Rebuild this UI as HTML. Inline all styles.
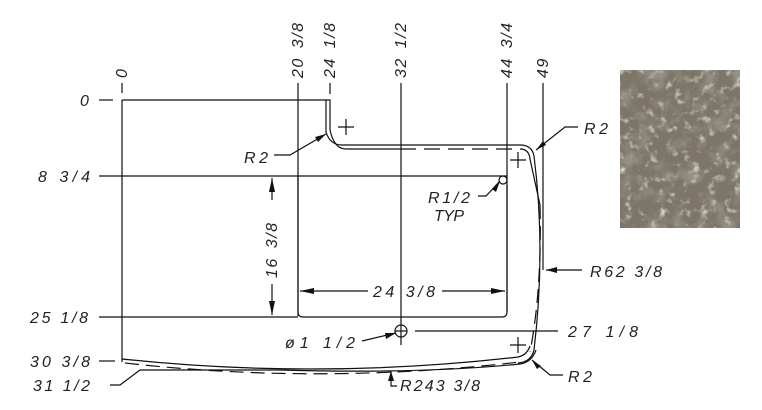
<!DOCTYPE html>
<html><head><meta charset="utf-8"><style>
html,body{margin:0;padding:0;background:#fff;width:762px;height:410px;overflow:hidden}
svg{display:block}
text{font-family:"Liberation Sans",sans-serif;font-style:italic;font-size:16px;fill:#222}
.r{letter-spacing:1.5px;word-spacing:3px}
</style></head><body>
<svg width="762" height="410" viewBox="0 0 762 410" xmlns="http://www.w3.org/2000/svg">
<defs>
<filter id="stone" x="0" y="0" width="100%" height="100%">
<feTurbulence type="fractalNoise" baseFrequency="0.06" numOctaves="4" seed="7"/>
<feColorMatrix type="matrix" values="0 0 0 0 0.30  0 0 0 0 0.28  0 0 0 0 0.24  0 0 0 -3 1.6"/>
</filter>
<filter id="stone2" x="0" y="0" width="100%" height="100%">
<feTurbulence type="fractalNoise" baseFrequency="0.12" numOctaves="3" seed="2"/>
<feColorMatrix type="matrix" values="0 0 0 0 0.70  0 0 0 0 0.68  0 0 0 0 0.62  0 0 0 -3 1.3"/>
</filter>
</defs>
<rect x="620" y="70" width="120" height="158" fill="#7d7668"/>
<rect x="620" y="70" width="120" height="158" fill="#000" filter="url(#stone)"/>
<rect x="620" y="70" width="120" height="158" fill="#000" filter="url(#stone2)"/>

<g stroke="#111" stroke-width="1.2" fill="none">
<line x1="122" y1="83" x2="122" y2="93"/>
<line x1="122" y1="100" x2="122" y2="362"/>
<line x1="298" y1="83" x2="298" y2="316"/>
<line x1="330" y1="83" x2="330" y2="94"/>
<line x1="401" y1="83" x2="401" y2="345"/>
<line x1="507" y1="83" x2="507" y2="312"/>
<line x1="543" y1="83" x2="543" y2="270"/>
<line x1="99" y1="100" x2="113" y2="100"/>
<line x1="99" y1="176" x2="507" y2="176"/>
<line x1="99" y1="317" x2="298" y2="317"/>
<line x1="99" y1="361" x2="115" y2="361"/>
<polyline points="110,385 120,385 140,370"/>
<polyline points="122,100 330,100 330,130"/>
<path d="M326,100 V132 Q330,145 342,145 H520 Q532,145 534,156 Q546,250 534,350 Q531,362 518,363"/>
<path d="M330,130 Q334,149 346,149 H400"/>
<path d="M400,149 H520" stroke-dasharray="16,8"/>
<path d="M520,149 Q529,149 530,159 L540,205"/>
<path d="M540,205 Q542,290 530,352" stroke-dasharray="14,7"/>
<path d="M122,359 Q320,380 518,357 Q527,355 530,346"/>
<path d="M125,363 Q320,385 520,362" stroke-dasharray="14,7"/>
<path d="M140,370 H280 Q420,374 520,364 Q532,362 536,350"/>
<path d="M298,176 V312 Q298,317 303,317 H502 Q507,317 507,312 V185"/>
<circle cx="503" cy="180" r="4"/>
<path d="M346,119 V135 M338,127 H354"/>
<path d="M518,152 V168 M510,160 H526"/>
<path d="M518,337 V353 M510,345 H526"/>
<circle cx="401" cy="331" r="6"/>
<line x1="395" y1="331" x2="407" y2="331"/>
<line x1="415" y1="331" x2="558" y2="331"/>
<line x1="272" y1="178" x2="272" y2="200"/>
<line x1="272" y1="284" x2="272" y2="315"/>
<line x1="300" y1="291" x2="368" y2="291"/>
<line x1="442" y1="291" x2="505" y2="291"/>
<polyline points="274,155 290,155 326,134"/>
<polyline points="478,196 486,196 500,181"/>
<polyline points="578,127 565,127 536,150"/>
<polyline points="582,270 546,270"/>
<polyline points="362,341 396,333"/>
<polyline points="563,375 550,375 532,360"/>
<polyline points="397,386 391,386 391,371"/>
</g>
<g fill="#111">
<polygon points="272,178 269,192 275,192"/>
<polygon points="272,315 269,301 275,301"/>
<polygon points="300,291 314,288 314,294"/>
<polygon points="505,291 491,288 491,294"/>
<polygon points="326,134 315,137 318,142"/>
<polygon points="500,181 492,189 496,192"/>
<polygon points="536,150 543,141 546,145"/>
<polygon points="546,270 557,267 557,273"/>
<polygon points="396,333 385,333 386,339"/>
<polygon points="532,360 537,369 541,366"/>
<polygon points="391,371 388,381 394,381"/>
</g>

<g transform="rotate(-90)">
<text class="r" x="-78" y="127">0</text>
<text class="r" x="-78" y="303">20 3/8</text>
<text class="r" x="-78" y="335">24 1/8</text>
<text class="r" x="-78" y="406">32 1/2</text>
<text class="r" x="-78" y="512">44 3/4</text>
<text class="r" x="-78" y="548">49</text>
<text class="r" x="-278" y="277">16 3/8</text>
</g>
<text x="80" y="106" textLength="11" lengthAdjust="spacing">0</text>
<text x="38" y="182" textLength="52" lengthAdjust="spacing">8 3/4</text>
<text x="30" y="323" textLength="58" lengthAdjust="spacing">25 1/8</text>
<text x="30" y="367" textLength="60" lengthAdjust="spacing">30 3/8</text>
<text x="33" y="391" textLength="57" lengthAdjust="spacing">31 1/2</text>
<text x="244" y="163" textLength="24" lengthAdjust="spacing">R2</text>
<text x="428" y="203" textLength="42" lengthAdjust="spacing">R1/2</text>
<text x="434" y="221" textLength="30" lengthAdjust="spacing">TYP</text>
<text x="584" y="134" textLength="24" lengthAdjust="spacing">R2</text>
<text x="590" y="277" textLength="72" lengthAdjust="spacing">R62 3/8</text>
<text x="373" y="297" textLength="62" lengthAdjust="spacing">24 3/8</text>
<text x="285" y="348" textLength="70" lengthAdjust="spacing">ø1 1/2</text>
<text x="568" y="337" textLength="70" lengthAdjust="spacing">27 1/8</text>
<text x="568" y="382" textLength="24" lengthAdjust="spacing">R2</text>
<text x="400" y="391" textLength="80" lengthAdjust="spacing">R243 3/8</text>
</svg>
</body></html>
